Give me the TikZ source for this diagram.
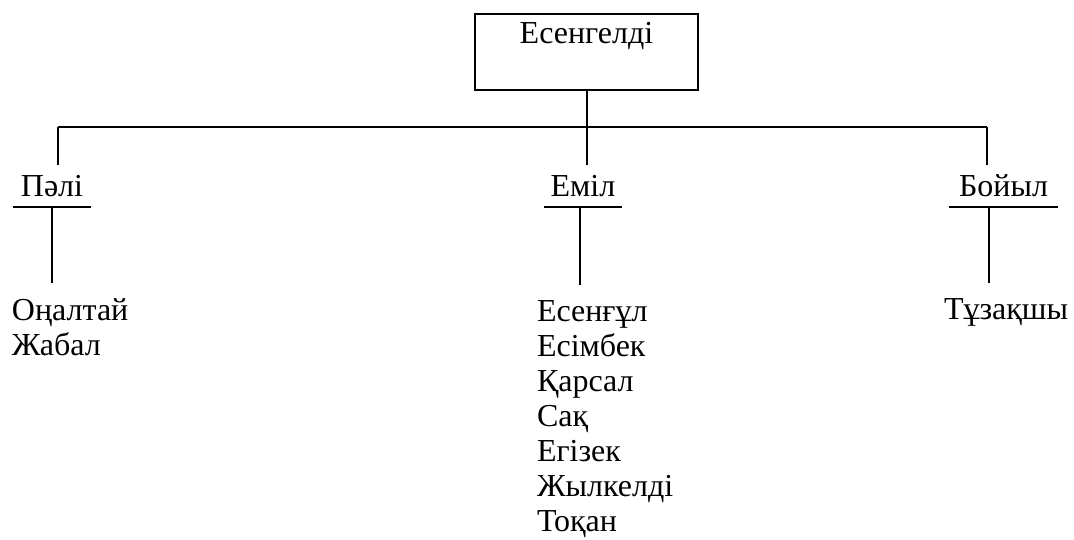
\documentclass[tikz,border=0pt]{standalone}
\usepackage{fontspec}
\setmainfont{Liberation Serif}
\usetikzlibrary{positioning}
\tikzset{
  rootbox/.style={draw, line width=2pt, inner xsep=0pt, inner ysep=0pt,
    minimum width=223pt, text height=30pt, text depth=46pt},
  son/.style={inner sep=0pt, text height=31pt, text depth=9pt},
  kids/.style={align=left, inner xsep=0pt, inner ysep=15pt},
}
\begin{document}
\begin{tikzpicture}[x=1pt,y=-1pt,line width=2pt,
    font=\fontsize{32}{35}\selectfont]
\useasboundingbox (0,0) rectangle (1074,540);
% the father
\node[rootbox, anchor=north] (root) at (586.5,13) {Есенгелді};
% his three sons, underlined
\node[son, anchor=south, minimum width=76pt] (pali) at (52,207) {Пәлі};
\node[son, anchor=south, minimum width=76pt] (emil) at (583,207) {Еміл};
\node[son, anchor=south, minimum width=107pt] (boil) at (1003.5,207) {Бойыл};
\draw (pali.south west) -- (pali.south east);
\draw (emil.south west) -- (emil.south east);
\draw (boil.south west) -- (boil.south east);
% the bar
\coordinate (barL) at (58,127);
\coordinate (barR) at (987,127);
\draw (barL) -- (barR);
\draw (root.south) -- (root.south |- emil.north);
\draw (barL) -- (barL |- pali.north);
\draw (barR) -- (barR |- boil.north);
% grandsons
\node[kids, anchor=north west] (paliKids) at (11,283) {Оңалтай\\Жабал};
\node[kids, anchor=north west] (emilKids) at (536,285)
  {Есенғұл\\Есімбек\\Қарсал\\Сақ\\Егізек\\Жылкелді\\Тоқан};
\node[kids, anchor=north west] (boilKids) at (943,283) {Тұзақшы};
\draw (pali.south) -- (pali.south |- paliKids.north);
\draw ([xshift=-3pt]emil.south) -- ([xshift=-3pt]emil.south |- emilKids.north);
\draw ([xshift=-15pt]boil.south) -- ([xshift=-15pt]boil.south |- boilKids.north);
\end{tikzpicture}
\end{document}
